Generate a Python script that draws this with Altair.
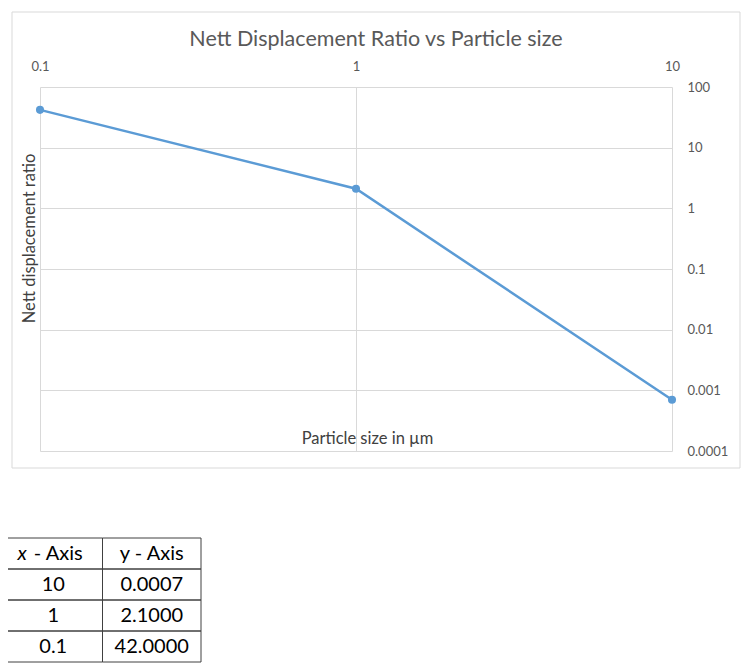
import altair as alt
import pandas as pd

# ---- data ----
chart_title = "Nett Displacement Ratio vs Particle size"
particle_size = [10, 1, 0.1]
displacement_ratio = [0.0007, 2.1, 42.0]
x_ticks = [0.1, 1, 10]
y_ticks = [0.0001, 0.001, 0.01, 0.1, 1, 10, 100]
table_header = ["x - Axis", "y - Axis"]
table_x_col = ["10", "1", "0.1"]
table_y_col = ["0.0007", "2.1000", "42.0000"]

BLUE = "#5B9BD5"
GRID = "#D9D9D9"
FONT = "Lato"

df = pd.DataFrame({"size": particle_size, "ratio": displacement_ratio})

# table cells
cells = []
for c, h in enumerate(table_header):
    cells.append({"row": 0, "col": c, "label": h})
for r, (a, b) in enumerate(zip(table_x_col, table_y_col), start=1):
    cells.append({"row": r, "col": 0, "label": a})
    cells.append({"row": r, "col": 1, "label": b})
cells_df = pd.DataFrame(cells)

# frame of the chart area
frame = alt.Chart(alt.Data(values=[{"k": 1}])).mark_rect(
    fill="white", fillOpacity=0, stroke=GRID, strokeWidth=1
).encode(
    x=alt.value(-28), x2=alt.value(700), y=alt.value(-75), y2=alt.value(381)
)

title_mark = alt.Chart(alt.Data(values=[{"t": chart_title}])).mark_text(
    font=FONT, fontSize=21.5, color="#595959", align="center", baseline="middle"
).encode(x=alt.value(336), y=alt.value(-47), text="t:N")

line = alt.Chart(df).mark_line(
    color=BLUE, strokeWidth=2.5,
    point=alt.OverlayMarkDef(filled=True, size=65, color=BLUE, opacity=1),
).encode(
    x=alt.X(
        "size:Q",
        scale=alt.Scale(type="log", domain=[0.1, 10]),
        axis=alt.Axis(
            orient="top", values=x_ticks, format="~g", grid=True, gridColor=GRID,
            domain=False, ticks=False, labelPadding=14, labelFlush=False,
            labelFont=FONT, labelFontSize=13, labelColor="#595959",
            title="Particle size in µm", titleFont=FONT, titleFontSize=16.5,
            titleFontWeight="normal", titleColor="#404040",
            titleX=327, titleY=351, titleBaseline="middle", titleAlign="center",
        ),
    ),
    y=alt.Y(
        "ratio:Q",
        scale=alt.Scale(type="log", domain=[0.0001, 100]),
        axis=alt.Axis(
            orient="right", values=y_ticks, grid=True, gridColor=GRID,
            labelExpr="format(datum.value, '~g')",
            domain=False, ticks=False, labelPadding=15, labelAlign="left",
            labelFont=FONT, labelFontSize=13, labelColor="#595959",
            title="Nett displacement ratio", titleFont=FONT, titleFontSize=16.5,
            titleFontWeight="normal", titleColor="#404040",
            titleX=-643, titleY=151, titleAngle=270, titleBaseline="middle",
            titleAlign="center",
        ),
    ),
)

tx = alt.X("col:O", scale=alt.Scale(domain=[0, 1], range=[-36, 161],
                                      paddingInner=0, paddingOuter=0), axis=None)
ty = alt.Y("row:O", scale=alt.Scale(domain=[0, 1, 2, 3], range=[451, 575],
                                      paddingInner=0, paddingOuter=0), axis=None)

table_rect = alt.Chart(cells_df).mark_rect(
    fill="white", fillOpacity=0, stroke="#404040", strokeWidth=1
).encode(x=tx, y=ty)

body_df = cells_df[~((cells_df.row == 0) & (cells_df.col == 0))]
table_text = alt.Chart(body_df).mark_text(
    font=FONT, fontSize=20, color="#000000", baseline="middle", align="center"
).encode(x=tx, y=ty, text="label:N")

hx = table_header[0]
head_parts = pd.DataFrame([
    {"row": 0, "col": 0, "label": hx[0], "part": "var"},
    {"row": 0, "col": 0, "label": hx[1:].strip(), "part": "rest"},
])
head_var = alt.Chart(head_parts[head_parts.part == "var"]).mark_text(
    font=FONT, fontSize=20, fontStyle="italic", color="#000000",
    baseline="middle", align="center", dx=-31
).encode(x=tx, y=ty, text="label:N")
head_rest = alt.Chart(head_parts[head_parts.part == "rest"]).mark_text(
    font=FONT, fontSize=20, color="#000000", baseline="middle", align="center", dx=5
).encode(x=tx, y=ty, text="label:N")

chart = alt.layer(frame, title_mark, line, table_rect, table_text, head_var, head_rest).resolve_scale(
    x="independent", y="independent"
).properties(
    width=632, height=364,
    autosize=alt.AutoSizeParams(type="none"),
    padding={"left": 32, "top": 79, "right": 71, "bottom": 212},
).configure_view(stroke=None)

chart.save("out.html", embed_options={"renderer": "svg", "actions": False})
